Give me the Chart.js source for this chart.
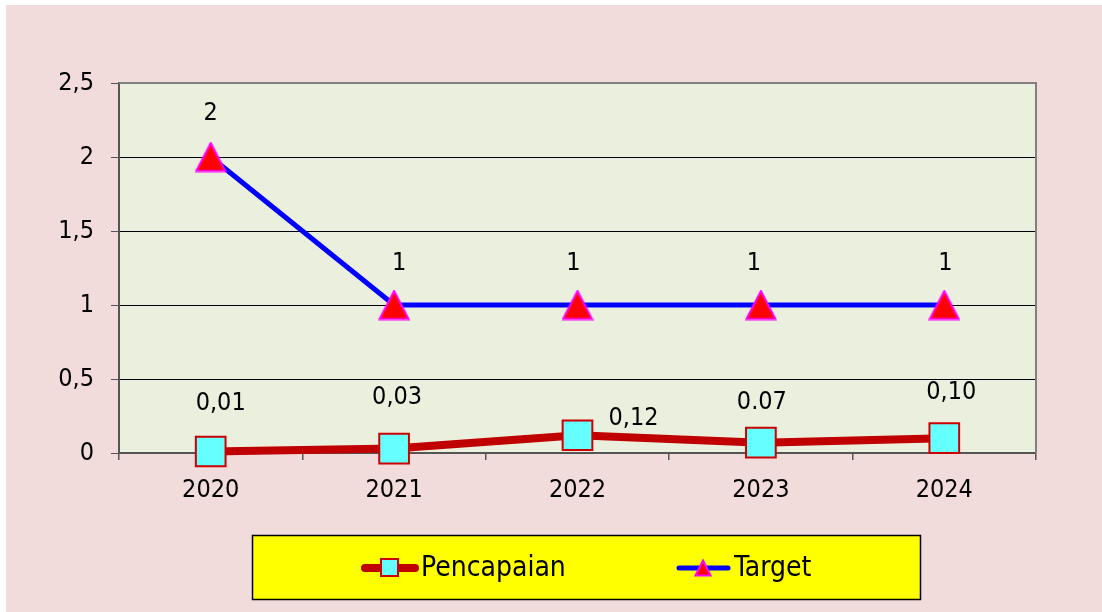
<!DOCTYPE html>
<html>
<head>
<meta charset="utf-8">
<script src="https://cdn.jsdelivr.net/npm/chart.js@4.4.1/dist/chart.umd.min.js"></script>
<style>
  html, body { margin: 0; padding: 0; background: #ffffff; }
  canvas { display: block; }
</style>
</head>
<body>
<canvas id="chart" width="1102" height="612"></canvas>
<script>
// chart data
const years = ['2020', '2021', '2022', '2023', '2024'];
const pencapaian = [0.01, 0.03, 0.12, 0.07, 0.10];
const target = [2, 1, 1, 1, 1];
const pencapaianLabels = ['0,01', '0,03', '0,12', '0.07', '0,10'];
const targetLabels = ['2', '1', '1', '1', '1'];
const yTicks = [0, 0.5, 1, 1.5, 2, 2.5];

// label offsets from the point (px)
const pencapaianLabelOffsets = [[10, -48], [3, -51], [56, -17], [1, -40], [7, -46]];
const targetLabelOffsets = [[0, -44], [5, -42], [-4, -42], [-7, -42], [1, -42]];

const FONT = "'DejaVu Sans Condensed', 'DejaVu Sans', sans-serif";
const PINK = '#f2dcdb';
const PLOT_BG = '#ebf0de';

// triangle marker drawn once, used as pointStyle
function makeTriangle(w, h, fill, stroke) {
  const c = document.createElement('canvas');
  c.width = w;
  c.height = h;
  const ctx = c.getContext('2d');
  ctx.beginPath();
  ctx.moveTo(w / 2, 1.5);
  ctx.lineTo(w - 1.5, h - 1.5);
  ctx.lineTo(1.5, h - 1.5);
  ctx.closePath();
  ctx.fillStyle = fill;
  ctx.fill();
  ctx.lineWidth = 2;
  ctx.strokeStyle = stroke;
  ctx.stroke();
  return c;
}
const triangle = makeTriangle(32, 31, '#ff0000', '#ff00ff');

const backgroundPlugin = {
  id: 'backgrounds',
  beforeDraw(chart) {
    const ctx = chart.ctx;
    const a = chart.chartArea;
    ctx.save();
    ctx.fillStyle = '#ffffff';
    ctx.fillRect(0, 0, chart.width, chart.height);
    ctx.fillStyle = PINK;
    ctx.fillRect(6, 5, chart.width - 6, chart.height - 5);
    ctx.fillStyle = PLOT_BG;
    ctx.fillRect(a.left, a.top, a.right - a.left, a.bottom - a.top);
    ctx.restore();
  }
};

const labelsPlugin = {
  id: 'pointLabels',
  afterDatasetsDraw(chart) {
    const ctx = chart.ctx;
    const sets = [
      { idx: 0, labels: pencapaianLabels, offsets: pencapaianLabelOffsets },
      { idx: 1, labels: targetLabels, offsets: targetLabelOffsets }
    ];
    ctx.save();
    ctx.font = '25px ' + FONT;
    ctx.fillStyle = '#000000';
    ctx.textAlign = 'center';
    ctx.textBaseline = 'middle';
    sets.forEach(s => {
      chart.getDatasetMeta(s.idx).data.forEach((pt, i) => {
        ctx.fillText(s.labels[i], pt.x + s.offsets[i][0], pt.y + s.offsets[i][1]);
      });
    });
    ctx.restore();
  }
};

const framePlugin = {
  id: 'frameAndLegend',
  afterDraw(chart) {
    const ctx = chart.ctx;
    const a = chart.chartArea;
    ctx.save();
    // top and right plot border
    ctx.strokeStyle = '#808080';
    ctx.lineWidth = 2;
    ctx.beginPath();
    ctx.moveTo(a.left, a.top);
    ctx.lineTo(a.right, a.top);
    ctx.lineTo(a.right, a.bottom);
    ctx.stroke();

    // legend box
    ctx.fillStyle = '#ffff00';
    ctx.fillRect(252, 535, 669, 65);
    ctx.strokeStyle = '#000000';
    ctx.lineWidth = 1.5;
    ctx.strokeRect(252.5, 535.5, 668, 64);

    // Pencapaian entry
    const p = chart.data.datasets[0];
    ctx.lineCap = 'round';
    ctx.strokeStyle = p.borderColor;
    ctx.lineWidth = 8;
    ctx.beginPath();
    ctx.moveTo(365, 568);
    ctx.lineTo(415, 568);
    ctx.stroke();
    ctx.fillStyle = p.pointBackgroundColor;
    ctx.fillRect(381, 559, 17, 17);
    ctx.strokeStyle = p.pointBorderColor;
    ctx.lineWidth = 2;
    ctx.strokeRect(381, 559, 17, 17);

    // Target entry
    const t = chart.data.datasets[1];
    ctx.strokeStyle = t.borderColor;
    ctx.lineWidth = 5;
    ctx.beginPath();
    ctx.moveTo(679, 568);
    ctx.lineTo(728, 568);
    ctx.stroke();
    ctx.drawImage(makeTriangle(18, 18, '#ff0000', '#ff00ff'), 694, 559);

    ctx.font = '28px ' + FONT;
    ctx.fillStyle = '#000000';
    ctx.textAlign = 'left';
    ctx.textBaseline = 'middle';
    ctx.fillText(p.label, 421, 569);
    ctx.fillText(t.label, 734, 569);
    ctx.restore();
  }
};

new Chart(document.getElementById('chart'), {
  type: 'line',
  data: {
    labels: years,
    datasets: [
      {
        label: 'Pencapaian',
        data: pencapaian,
        borderColor: '#c00000',
        borderWidth: 8,
        pointStyle: 'rect',
        pointRadius: 21,
        pointHoverRadius: 21,
        pointBackgroundColor: '#66ffff',
        pointBorderColor: '#cc0000',
        pointBorderWidth: 2,
        clip: false,
        tension: 0
      },
      {
        label: 'Target',
        data: target,
        borderColor: '#0000ff',
        borderWidth: 5,
        pointStyle: triangle,
        pointBackgroundColor: '#ff0000',
        pointBorderColor: '#ff00ff',
        clip: false,
        tension: 0
      }
    ]
  },
  options: {
    responsive: false,
    animation: false,
    layout: { padding: { left: 0, top: 83, right: 66, bottom: 0 } },
    plugins: {
      legend: { display: false },
      tooltip: { enabled: false }
    },
    scales: {
      x: {
        offset: true,
        afterFit(scale) { scale.height = 159; },
        grid: {
          offset: true,
          drawOnChartArea: false,
          drawTicks: true,
          tickLength: 7,
          color: '#555555',
          lineWidth: 1.5
        },
        border: { color: '#555555', width: 2 },
        ticks: {
          color: '#000000',
          padding: 15,
          font: { family: FONT, size: 25 }
        }
      },
      y: {
        min: 0,
        max: 2.5,
        afterFit(scale) { scale.width = 119; },
        afterBuildTicks(scale) {
          scale.ticks = yTicks.map(v => ({ value: v }));
        },
        grid: {
          color: '#000000',
          lineWidth: 1,
          tickLength: 8,
          tickColor: '#555555'
        },
        border: { color: '#555555', width: 2 },
        ticks: {
          color: '#000000',
          padding: 17,
          font: { family: FONT, size: 25 },
          callback: v => String(v).replace('.', ',')
        }
      }
    }
  },
  plugins: [backgroundPlugin, labelsPlugin, framePlugin]
});
</script>
</body>
</html>
